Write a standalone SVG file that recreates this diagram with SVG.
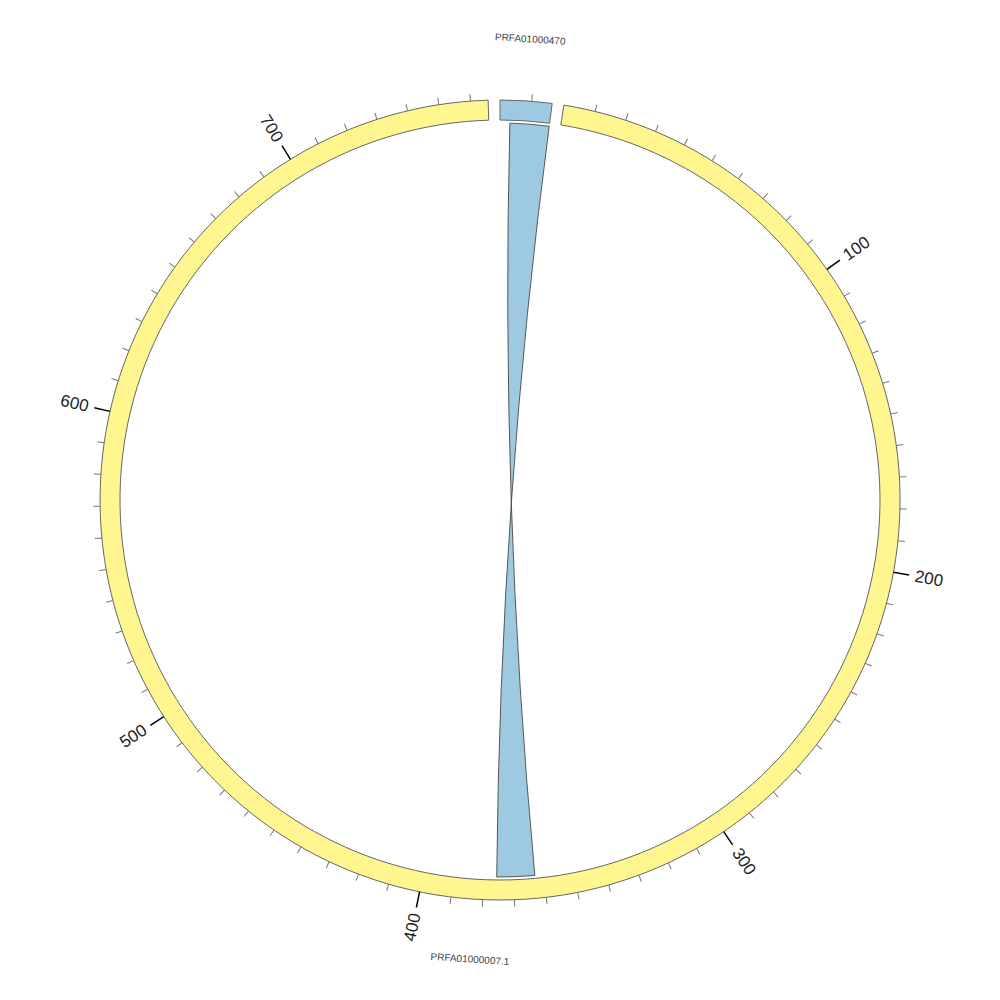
<svg xmlns="http://www.w3.org/2000/svg" xmlns:xlink="http://www.w3.org/1999/xlink" width="1000" height="1000" viewBox="0 0 1000 1000">
<style>
.seg{stroke:#666;stroke-width:1}
.yel{fill:#fff68f}
.blu{fill:#9ecae1}
.minor{stroke:#777;stroke-width:1}
.major{stroke:#000;stroke-width:1.5}
.tl{font-family:"Liberation Sans",Arial,sans-serif;font-size:17px;fill:#222;dominant-baseline:central}
.sl{font-family:"Liberation Sans",Arial,sans-serif;font-size:10px;fill:#444;text-anchor:middle;dominant-baseline:central}
.rib{fill:#9ecae1;stroke:#333;stroke-width:0.8}
</style>
<defs>
<line id="tmin" class="minor" x1="500" y1="100" x2="500" y2="93"/>
<line id="tmaj" class="major" x1="500" y1="100" x2="500" y2="84"/>
</defs>
<rect width="1000" height="1000" fill="#fff"/>
<g id="node-PRFA01000470">
<path class="seg blu" d="M500,100 A400,400 0 0,1 552.21,103.42 L549.60,123.25 A380,380 0 0,0 500,120 Z"/>
<use xlink:href="#tmin" transform="rotate(4.56 500 500)"/>
<text class="sl" x="500" y="38" transform="rotate(3.75 500 500)">PRFA01000470</text>
</g>
<g id="node-PRFA01000007.1">
<path class="seg yel" d="M563.95,105.14 A400,400 0 1,1 488.13,100.18 L488.73,120.17 A380,380 0 1,0 560.75,124.89 Z"/>
<g id="ticks">
<use xlink:href="#tmin" transform="rotate(13.76 500 500)"/>
<use xlink:href="#tmin" transform="rotate(18.32 500 500)"/>
<use xlink:href="#tmin" transform="rotate(22.88 500 500)"/>
<use xlink:href="#tmin" transform="rotate(27.44 500 500)"/>
<use xlink:href="#tmin" transform="rotate(32.00 500 500)"/>
<use xlink:href="#tmin" transform="rotate(36.56 500 500)"/>
<use xlink:href="#tmin" transform="rotate(41.12 500 500)"/>
<use xlink:href="#tmin" transform="rotate(45.68 500 500)"/>
<use xlink:href="#tmin" transform="rotate(50.24 500 500)"/>
<use xlink:href="#tmaj" transform="rotate(54.80 500 500)"/>
<use xlink:href="#tmin" transform="rotate(59.36 500 500)"/>
<use xlink:href="#tmin" transform="rotate(63.92 500 500)"/>
<use xlink:href="#tmin" transform="rotate(68.48 500 500)"/>
<use xlink:href="#tmin" transform="rotate(73.04 500 500)"/>
<use xlink:href="#tmin" transform="rotate(77.60 500 500)"/>
<use xlink:href="#tmin" transform="rotate(82.16 500 500)"/>
<use xlink:href="#tmin" transform="rotate(86.72 500 500)"/>
<use xlink:href="#tmin" transform="rotate(91.28 500 500)"/>
<use xlink:href="#tmin" transform="rotate(95.84 500 500)"/>
<use xlink:href="#tmaj" transform="rotate(100.40 500 500)"/>
<use xlink:href="#tmin" transform="rotate(104.96 500 500)"/>
<use xlink:href="#tmin" transform="rotate(109.52 500 500)"/>
<use xlink:href="#tmin" transform="rotate(114.08 500 500)"/>
<use xlink:href="#tmin" transform="rotate(118.64 500 500)"/>
<use xlink:href="#tmin" transform="rotate(123.20 500 500)"/>
<use xlink:href="#tmin" transform="rotate(127.76 500 500)"/>
<use xlink:href="#tmin" transform="rotate(132.32 500 500)"/>
<use xlink:href="#tmin" transform="rotate(136.88 500 500)"/>
<use xlink:href="#tmin" transform="rotate(141.44 500 500)"/>
<use xlink:href="#tmaj" transform="rotate(146.00 500 500)"/>
<use xlink:href="#tmin" transform="rotate(150.56 500 500)"/>
<use xlink:href="#tmin" transform="rotate(155.12 500 500)"/>
<use xlink:href="#tmin" transform="rotate(159.68 500 500)"/>
<use xlink:href="#tmin" transform="rotate(164.24 500 500)"/>
<use xlink:href="#tmin" transform="rotate(168.80 500 500)"/>
<use xlink:href="#tmin" transform="rotate(173.36 500 500)"/>
<use xlink:href="#tmin" transform="rotate(177.92 500 500)"/>
<use xlink:href="#tmin" transform="rotate(182.48 500 500)"/>
<use xlink:href="#tmin" transform="rotate(187.04 500 500)"/>
<use xlink:href="#tmaj" transform="rotate(191.60 500 500)"/>
<use xlink:href="#tmin" transform="rotate(196.16 500 500)"/>
<use xlink:href="#tmin" transform="rotate(200.72 500 500)"/>
<use xlink:href="#tmin" transform="rotate(205.28 500 500)"/>
<use xlink:href="#tmin" transform="rotate(209.84 500 500)"/>
<use xlink:href="#tmin" transform="rotate(214.40 500 500)"/>
<use xlink:href="#tmin" transform="rotate(218.96 500 500)"/>
<use xlink:href="#tmin" transform="rotate(223.52 500 500)"/>
<use xlink:href="#tmin" transform="rotate(228.08 500 500)"/>
<use xlink:href="#tmin" transform="rotate(232.64 500 500)"/>
<use xlink:href="#tmaj" transform="rotate(237.20 500 500)"/>
<use xlink:href="#tmin" transform="rotate(241.76 500 500)"/>
<use xlink:href="#tmin" transform="rotate(246.32 500 500)"/>
<use xlink:href="#tmin" transform="rotate(250.88 500 500)"/>
<use xlink:href="#tmin" transform="rotate(255.44 500 500)"/>
<use xlink:href="#tmin" transform="rotate(260.00 500 500)"/>
<use xlink:href="#tmin" transform="rotate(264.56 500 500)"/>
<use xlink:href="#tmin" transform="rotate(269.12 500 500)"/>
<use xlink:href="#tmin" transform="rotate(273.68 500 500)"/>
<use xlink:href="#tmin" transform="rotate(278.24 500 500)"/>
<use xlink:href="#tmaj" transform="rotate(282.80 500 500)"/>
<use xlink:href="#tmin" transform="rotate(287.36 500 500)"/>
<use xlink:href="#tmin" transform="rotate(291.92 500 500)"/>
<use xlink:href="#tmin" transform="rotate(296.48 500 500)"/>
<use xlink:href="#tmin" transform="rotate(301.04 500 500)"/>
<use xlink:href="#tmin" transform="rotate(305.60 500 500)"/>
<use xlink:href="#tmin" transform="rotate(310.16 500 500)"/>
<use xlink:href="#tmin" transform="rotate(314.72 500 500)"/>
<use xlink:href="#tmin" transform="rotate(319.28 500 500)"/>
<use xlink:href="#tmin" transform="rotate(323.84 500 500)"/>
<use xlink:href="#tmaj" transform="rotate(328.40 500 500)"/>
<use xlink:href="#tmin" transform="rotate(332.96 500 500)"/>
<use xlink:href="#tmin" transform="rotate(337.52 500 500)"/>
<use xlink:href="#tmin" transform="rotate(342.08 500 500)"/>
<use xlink:href="#tmin" transform="rotate(346.64 500 500)"/>
<use xlink:href="#tmin" transform="rotate(351.20 500 500)"/>
<use xlink:href="#tmin" transform="rotate(355.76 500 500)"/>
</g>
<g id="tick-labels">
<text class="tl" x="0" y="0" transform="rotate(54.80 500 500) translate(500 78) rotate(-90)">100</text>
<text class="tl" x="0" y="0" transform="rotate(100.40 500 500) translate(500 78) rotate(-90)">200</text>
<text class="tl" x="0" y="0" transform="rotate(146.00 500 500) translate(500 78) rotate(-90)">300</text>
<text class="tl" x="0" y="0" text-anchor="end" transform="rotate(191.60 500 500) translate(500 78) rotate(90)">400</text>
<text class="tl" x="0" y="0" text-anchor="end" transform="rotate(237.20 500 500) translate(500 78) rotate(90)">500</text>
<text class="tl" x="0" y="0" text-anchor="end" transform="rotate(282.80 500 500) translate(500 78) rotate(90)">600</text>
<text class="tl" x="0" y="0" text-anchor="end" transform="rotate(328.40 500 500) translate(500 78) rotate(90)">700</text>
</g>
<text class="sl" x="500" y="960" transform="rotate(3.75 500 500)">PRFA01000007.1</text>
</g>
<g id="connectors">
<path class="rib" d="M509.87,123.13 A377,377 0 0,1 549.21,126.23 Q500,500 496.71,876.98 A377,377 0 0,0 534.82,875.39 Q500,500 509.87,123.13 Z"/>
</g>
</svg>
